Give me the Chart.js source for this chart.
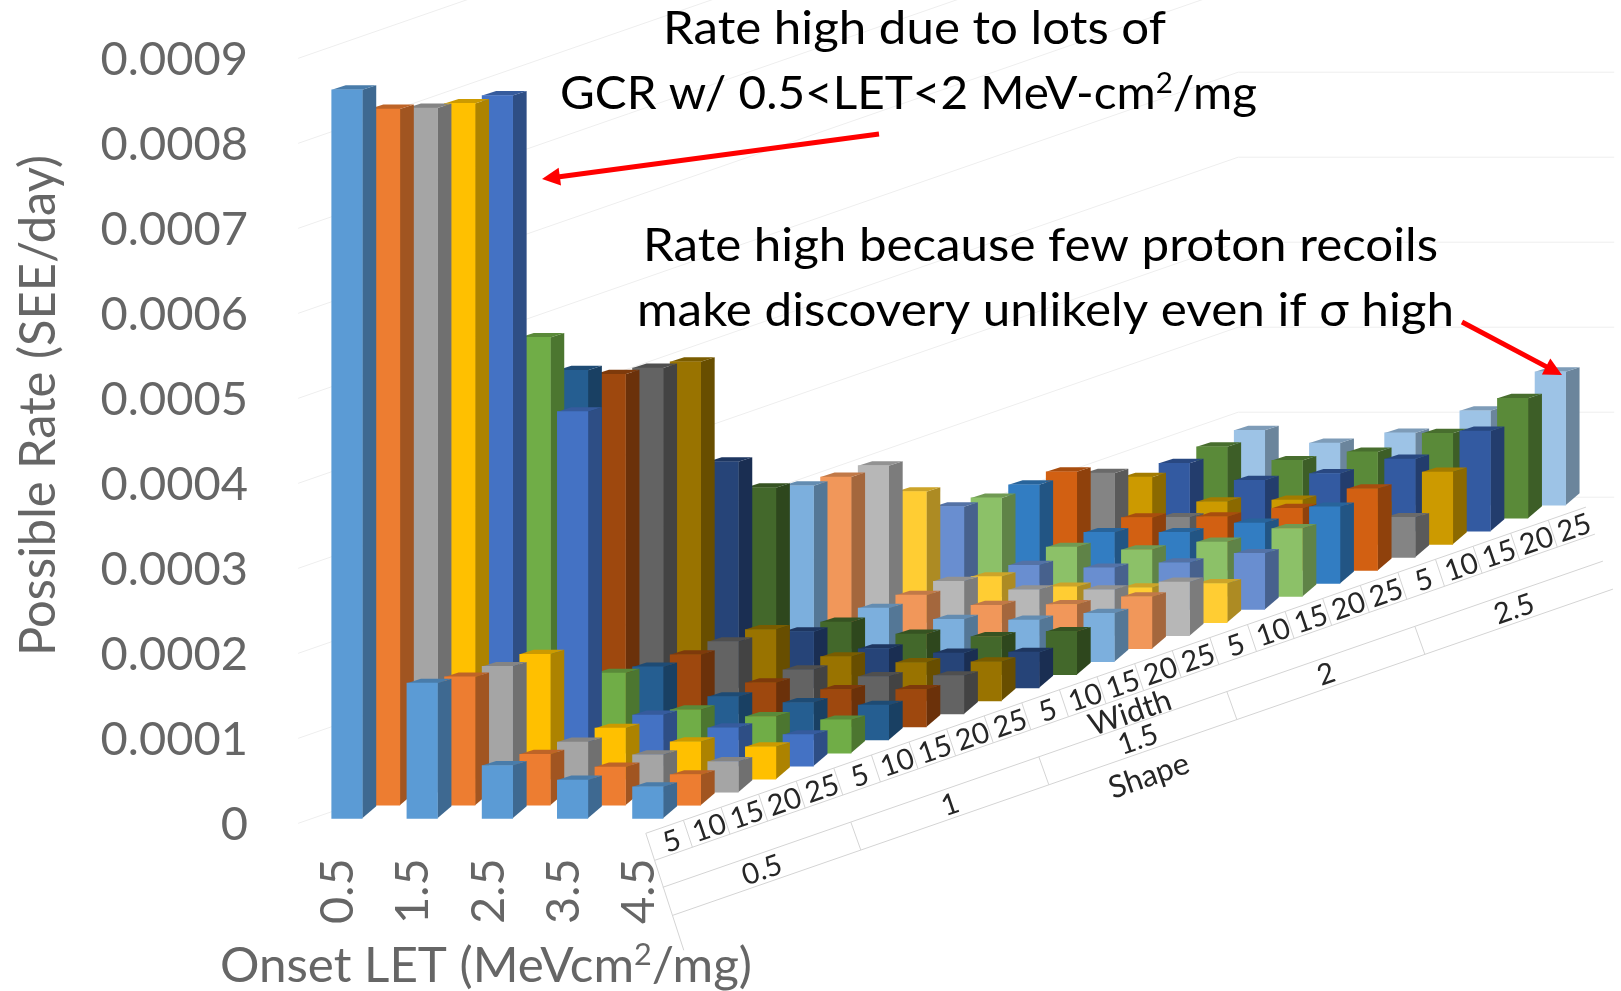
<!DOCTYPE html>
<html>
<head>
<meta charset="utf-8">
<title>Possible Rate</title>
<script src="https://cdn.jsdelivr.net/npm/chart.js@4/dist/chart.umd.js"></script>
<style>
  html, body { margin: 0; padding: 0; background: #fff; }
  canvas { display: block; }
</style>
</head>
<body>
<canvas id="rateChart" width="1621" height="991"></canvas>
<script>
// categories on the front axis
const onsetLabels = ['0.5', '1.5', '2.5', '3.5', '4.5'];
// series on the depth axis: 5 shapes x 5 widths
const shapeLabels = ['0.5', '1', '1.5', '2', '2.5'];
const widthLabels = ['5', '10', '15', '20', '25'];
const yTickLabels = ['0', '0.0001', '0.0002', '0.0003', '0.0004', '0.0005', '0.0006', '0.0007', '0.0008', '0.0009'];

// one value per series (shape/width), one array per onset LET
const rateOnset05 = [0.000857, 0.000819, 0.000805, 0.000795, 0.000789, 0.000489, 0.000435, 0.000415, 0.000407, 0.000399, 0.000266, 0.000220, 0.000207, 0.000202, 0.000200, 0.000154, 0.000121, 0.000116, 0.000116, 0.000116, 0.000099, 0.000079, 0.000080, 0.000084, 0.000088];
const rateOnset15 = [0.000159, 0.000151, 0.000148, 0.000147, 0.000417, 0.000094, 0.000086, 0.000085, 0.000085, 0.000084, 0.000066, 0.000062, 0.000063, 0.000063, 0.000064, 0.000054, 0.000052, 0.000058, 0.000060, 0.000062, 0.000047, 0.000050, 0.000060, 0.000068, 0.000073];
const rateOnset25 = [0.000062, 0.000060, 0.000059, 0.000060, 0.000060, 0.000051, 0.000051, 0.000052, 0.000052, 0.000052, 0.000046, 0.000048, 0.000050, 0.000051, 0.000054, 0.000042, 0.000049, 0.000055, 0.000060, 0.000063, 0.000033, 0.000052, 0.000068, 0.000078, 0.000085];
const rateOnset35 = [0.000045, 0.000045, 0.000044, 0.000044, 0.000045, 0.000043, 0.000044, 0.000044, 0.000044, 0.000045, 0.000041, 0.000045, 0.000049, 0.000052, 0.000054, 0.000041, 0.000055, 0.000064, 0.000071, 0.000073, 0.000040, 0.000045, 0.000085, 0.000100, 0.000111];
const rateOnset45 = [0.000037, 0.000036, 0.000036, 0.000038, 0.000037, 0.000039, 0.000041, 0.000044, 0.000045, 0.000046, 0.000042, 0.000051, 0.000057, 0.000061, 0.000063, 0.000046, 0.000066, 0.000080, 0.000090, 0.000096, 0.000047, 0.000085, 0.000118, 0.000141, 0.000157];
const ratesByOnset = [rateOnset05, rateOnset15, rateOnset25, rateOnset35, rateOnset45];

const seriesColors = ['#5B9BD5', '#ED7D31', '#A5A5A5', '#FFC000', '#4472C4', '#70AD47', '#255E91', '#9E480E', '#636363', '#997300', '#264478', '#43682B',
  '#7CAFDD', '#F1975A', '#B7B7B7', '#FFCD33', '#698ED0', '#8CC168', '#327DC2', '#D26012', '#848484', '#CC9A00', '#335AA1', '#5A8A39', '#9DC3E6'];

// how much one series step lifts the floor, in rate units
const seriesRise = 1.535e-5;
const FONT = 'Lato, "Noto Sans", sans-serif';

function shade(hex, f) {
  const n = parseInt(hex.slice(1), 16);
  return `rgb(${Math.round((n >> 16) * f)},${Math.round(((n >> 8) & 255) * f)},${Math.round((n & 255) * f)})`;
}

function polygon(ctx, pts, color) {
  ctx.fillStyle = color;
  ctx.beginPath();
  pts.forEach((p, i) => i ? ctx.lineTo(p[0], p[1]) : ctx.moveTo(p[0], p[1]));
  ctx.closePath();
  ctx.fill();
}

function strokeLine(ctx, x1, y1, x2, y2) {
  ctx.beginPath();
  ctx.moveTo(x1, y1);
  ctx.lineTo(x2, y2);
  ctx.stroke();
}

// text squeezed to a given width, parts with sup:true are raised
function fitText(ctx, parts, x, y, size, width, color, angle) {
  ctx.save();
  ctx.textAlign = 'left';
  ctx.textBaseline = 'alphabetic';
  ctx.fillStyle = color;
  let total = 0;
  parts.forEach(p => {
    ctx.font = `${p.sup ? size * 0.62 : size}px ${FONT}`;
    total += ctx.measureText(p.t).width;
  });
  ctx.translate(x, y);
  ctx.rotate(angle || 0);
  ctx.scale(width / total, 1);
  let cx = 0;
  parts.forEach(p => {
    ctx.font = `${p.sup ? size * 0.62 : size}px ${FONT}`;
    ctx.fillText(p.t, cx, p.sup ? -size * 0.34 : 0);
    cx += ctx.measureText(p.t).width;
  });
  ctx.restore();
}

function slantText(ctx, text, x, y, size) {
  ctx.save();
  ctx.translate(x, y);
  ctx.rotate(-19 * Math.PI / 180);
  ctx.font = `${size}px ${FONT}`;
  ctx.fillStyle = '#262626';
  ctx.textAlign = 'center';
  ctx.textBaseline = 'middle';
  ctx.fillText(text, 0, 0);
  ctx.restore();
}

function arrow(ctx, x1, y1, x2, y2) {
  const a = Math.atan2(y2 - y1, x2 - x1);
  ctx.strokeStyle = '#ff0000';
  ctx.lineWidth = 5;
  strokeLine(ctx, x1, y1, x2 - 12 * Math.cos(a), y2 - 12 * Math.sin(a));
  polygon(ctx, [
    [x2, y2],
    [x2 - 18 * Math.cos(a) + 9 * Math.sin(a), y2 - 18 * Math.sin(a) - 9 * Math.cos(a)],
    [x2 - 18 * Math.cos(a) - 9 * Math.sin(a), y2 - 18 * Math.sin(a) + 9 * Math.cos(a)]
  ], '#ff0000');
}

// side and top faces of the boxes, the front face is the bar itself
const boxFaces = {
  id: 'boxFaces',
  beforeDatasetDraw(chart, args) {
    const ctx = chart.ctx;
    const color = seriesColors[args.index];
    ctx.save();
    args.meta.data.forEach(bar => {
      const l = bar.x - bar.width / 2;
      const r = bar.x + bar.width / 2;
      polygon(ctx, [[r, bar.base], [r + 14, bar.base - 12], [r + 14, bar.y - 4.5], [r, bar.y]], shade(color, 0.68));
      polygon(ctx, [[l, bar.y], [l + 14, bar.y - 4.5], [r + 14, bar.y - 4.5], [r, bar.y]], shade(color, 0.8));
    });
    ctx.restore();
  }
};

// wall lines behind the boxes
const walls = {
  id: 'walls',
  beforeDatasetsDraw(chart) {
    const ctx = chart.ctx;
    const xs = chart.scales.x, ys = chart.scales.y;
    ctx.save();
    ctx.strokeStyle = '#eeeeee';
    ctx.lineWidth = 1;
    for (let k = 0; k < 15; k++) {
      const v = k * 1e-4 + 1.4e-5;
      const cornerX = xs.getPixelForValue(23.7), cornerY = ys.getPixelForValue(v + 23.7 * seriesRise);
      ctx.beginPath();
      ctx.moveTo(xs.getPixelForValue(-1.3), ys.getPixelForValue(v - 1.3 * seriesRise));
      ctx.lineTo(cornerX, cornerY);
      ctx.lineTo(xs.getPixelForValue(33.7), cornerY);
      ctx.stroke();
    }
    ctx.restore();
  }
};

// the depth axis table, titles and the two notes
const annotations = {
  id: 'annotations',
  afterDraw(chart) {
    const ctx = chart.ctx;
    const xs = chart.scales.x, ys = chart.scales.y;
    // s = series position along depth, measured from the last onset column
    const px = (s, shift) => xs.getPixelForValue(8 + s) + shift;
    const py = (s, drop) => ys.getPixelForValue(s * seriesRise) + drop;
    const rows = [[-2, 15], [7, 42], [15, 69], [25, 97]];

    ctx.save();
    ctx.strokeStyle = '#d4d4d4';
    ctx.lineWidth = 1;
    rows.forEach(r => strokeLine(ctx, px(0, r[0]), py(0, r[1]), px(25, r[0]), py(25, r[1])));
    strokeLine(ctx, px(0, -2), py(0, 15), px(0, 36), py(0, 132));
    for (let s = 1; s < 25; s++) {
      strokeLine(ctx, px(s, -2), py(s, 15), px(s, 7), py(s, 42));
    }
    for (let s = 5; s < 25; s += 5) {
      strokeLine(ctx, px(s, 15), py(s, 69), px(s, 25), py(s, 97));
    }

    shapeLabels.forEach((shape, i) => {
      widthLabels.forEach((w, j) => {
        const s = i * 5 + j;
        slantText(ctx, w, px(s, 24), py(s, 23), 29);
      });
      const mid = i * 5 + 2;
      slantText(ctx, shape, px(mid, 39), py(mid, 78), 29);
    });
    slantText(ctx, 'Width', 1130, 713, 31);
    slantText(ctx, 'Shape', 1149, 776, 31);
    ctx.restore();

    fitText(ctx, [{ t: 'Possible Rate (SEE/day)' }], 55, 656, 50, 501, '#666666', -Math.PI / 2);
    fitText(ctx, [{ t: 'Onset LET (MeVcm' }, { t: '2', sup: true }, { t: '/mg)' }], 220, 982, 49, 532, '#666666');

    fitText(ctx, [{ t: 'Rate high due to lots of' }], 663, 44, 47, 503, '#000');
    fitText(ctx, [{ t: 'GCR w/ 0.5<LET<2 MeV-cm' }, { t: '2', sup: true }, { t: '/mg' }], 560, 109, 47, 697, '#000');
    fitText(ctx, [{ t: 'Rate high because few proton recoils' }], 643, 261, 47, 795, '#000');
    fitText(ctx, [{ t: 'make discovery unlikely even if σ high' }], 637, 326, 47, 817, '#000');

    arrow(ctx, 879, 134, 542, 179);
    arrow(ctx, 1462, 322, 1562, 375);
  }
};

const datasets = seriesColors.map((color, s) => ({
  label: `Shape ${shapeLabels[Math.floor(s / 5)]} Width ${widthLabels[s % 5]}`,
  backgroundColor: color,
  borderWidth: 0,
  clip: false,
  data: ratesByOnset.map((rates, c) => ({ x: 2 * c + s, y: [s * seriesRise, s * seriesRise + rates[s]] }))
}));

new Chart(document.getElementById('rateChart'), {
  type: 'bar',
  data: { datasets },
  plugins: [walls, boxFaces, annotations],
  options: {
    responsive: false,
    animation: false,
    grouped: false,
    barPercentage: 1,
    categoryPercentage: 1,
    maxBarThickness: 30.5,
    layout: { padding: { top: 53.3, left: 0, right: 0, bottom: 0 } },
    plugins: { legend: { display: false }, tooltip: { enabled: false } },
    scales: {
      x: {
        type: 'linear',
        offset: false,
        min: -2.1,
        max: 33.88,
        grid: { display: false, drawTicks: false, offset: false },
        border: { display: false },
        afterFit(scale) { scale.height = 172.7; },
        afterBuildTicks(scale) { scale.ticks = onsetLabels.map((_, c) => ({ value: 2 * c })); },
        ticks: {
          autoSkip: false,
          minRotation: 90,
          maxRotation: 90,
          padding: 40,
          labelOffset: -9,
          color: '#666666',
          font: { family: FONT, size: 47 },
          callback: value => onsetLabels[value / 2]
        }
      },
      y: {
        min: 0,
        max: 0.0009,
        grid: { display: false, drawTicks: false },
        border: { display: false },
        afterFit(scale) { scale.width = 268; },
        afterBuildTicks(scale) { scale.ticks = yTickLabels.map(t => ({ value: parseFloat(t) })); },
        ticks: {
          padding: 20,
          labelOffset: 6.5,
          color: '#666666',
          font: { family: FONT, size: 47 },
          callback: (value, index) => yTickLabels[index]
        }
      }
    }
  }
});
</script>
</body>
</html>
